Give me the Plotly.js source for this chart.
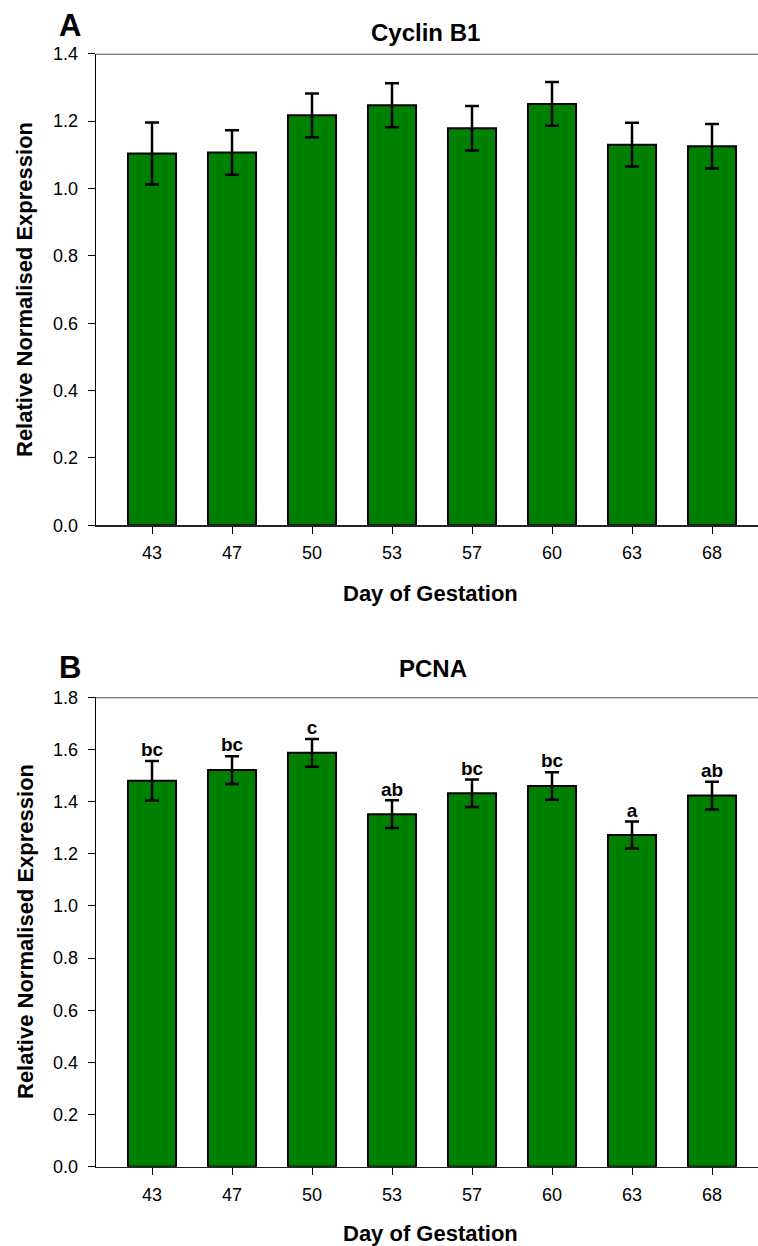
<!DOCTYPE html>
<html>
<head>
<meta charset="utf-8">
<script src="https://cdn.plot.ly/plotly-3.0.1.min.js"></script>
<style>html,body{margin:0;padding:0;background:#fff;}#chart{width:758px;height:1246px;}</style>
</head>
<body>
<div id="chart"></div>
<script>
var days = ['43','47','50','53','57','60','63','68'];
var cyclinMean = [1.104,1.107,1.217,1.247,1.179,1.251,1.130,1.125];
var cyclinErr  = [0.092,0.066,0.065,0.065,0.066,0.065,0.065,0.066];
var pcnaMean   = [1.480,1.521,1.587,1.352,1.432,1.460,1.272,1.423];
var pcnaErr    = [0.076,0.053,0.053,0.053,0.053,0.053,0.052,0.053];
var pcnaLetters = ['bc','bc','c','ab','bc','bc','a','ab'];

var W = 758, H = 1246;
var FONT = 'Liberation Sans, Arial, sans-serif';
function px(x){return x/W;}
function py(y){return 1 - y/H;}

function barTrace(means, errs, xa, ya){
  return {
    type:'bar', x:days, y:means, xaxis:xa, yaxis:ya, width:0.6,
    marker:{color:'#008000', line:{color:'#000', width:2}},
    error_y:{type:'data', array:errs, visible:true, color:'#000', thickness:2.5, width:7},
    hoverinfo:'skip'
  };
}

var letterY = pcnaMean.map(function(m, i){ return m + pcnaErr[i]; });

var traces = [
  barTrace(cyclinMean, cyclinErr, 'x', 'y'),
  barTrace(pcnaMean, pcnaErr, 'x2', 'y2'),
  {
    type:'scatter', mode:'text', x:days, y:letterY, text:pcnaLetters, xaxis:'x2', yaxis:'y2',
    textposition:'top center', cliponaxis:false,
    textfont:{family:FONT, size:19, color:'#000', weight:'bold'}, hoverinfo:'skip'
  }
];

var xCommon = {
  type:'category', range:[-0.704, 7.575], domain:[px(95.7), 1],
  showline:true, linecolor:'#222', linewidth:1.5, ticks:'outside', ticklen:7, tickwidth:1, tickcolor:'#000',
  tickfont:{family:FONT, size:18, color:'#000'}, showgrid:false, zeroline:false, ticklabelstandoff:4,
  fixedrange:true
};
var yCommon = {
  showline:true, linecolor:'#000', linewidth:1, ticks:'outside', ticklen:7, tickwidth:1, tickcolor:'#000',
  tickfont:{family:FONT, size:18, color:'#000'}, showgrid:false, zeroline:false, dtick:0.2, tickformat:'.1f',
  ticklabelstandoff:6, fixedrange:true
};

var layout = {
  width:W, height:H, margin:{l:0, r:0, t:0, b:0}, showlegend:false,
  paper_bgcolor:'#fff', plot_bgcolor:'#fff', bargap:0.4,
  xaxis: Object.assign({}, xCommon, {anchor:'y'}),
  yaxis: Object.assign({}, yCommon, {anchor:'x', domain:[py(525.3), py(53.7)], range:[0, 1.4]}),
  xaxis2: Object.assign({}, xCommon, {anchor:'y2'}),
  yaxis2: Object.assign({}, yCommon, {anchor:'x2', domain:[py(1166.7), py(697.3)], range:[0, 1.8]}),
  shapes:[
    {type:'line', xref:'x domain', yref:'y', x0:0, x1:1, y0:1.4, y1:1.4, line:{color:'#555', width:2}},
    {type:'line', xref:'x2 domain', yref:'y2', x0:0, x1:1, y0:1.8, y1:1.8, line:{color:'#555', width:2}}
  ],
  annotations:[]
};

function ann(text, x, y, size, opts){
  var a = {xref:'paper', yref:'paper', x:px(x), y:py(y), text:text, showarrow:false,
    xanchor:'center', yanchor:'middle', font:{family:FONT, size:size, color:'#000', weight:'bold'}};
  return Object.assign(a, opts || {});
}
layout.annotations.push(ann('A', 57, 25, 31, {xanchor:'left'}));
layout.annotations.push(ann('B', 57, 667, 31, {xanchor:'left'}));
layout.annotations.push(ann('Cyclin B1', 425, 33, 24));
layout.annotations.push(ann('PCNA', 433, 669, 24));
layout.annotations.push(ann('Relative Normalised Expression', 25, 290, 22, {textangle:-90}));
layout.annotations.push(ann('Relative Normalised Expression', 25, 932, 22, {textangle:-90}));
layout.annotations.push(ann('Day of Gestation', 430, 593, 22));
layout.annotations.push(ann('Day of Gestation', 430, 1233, 22));

Plotly.newPlot('chart', traces, layout, {staticPlot:true, displayModeBar:false});
</script>
</body>
</html>
